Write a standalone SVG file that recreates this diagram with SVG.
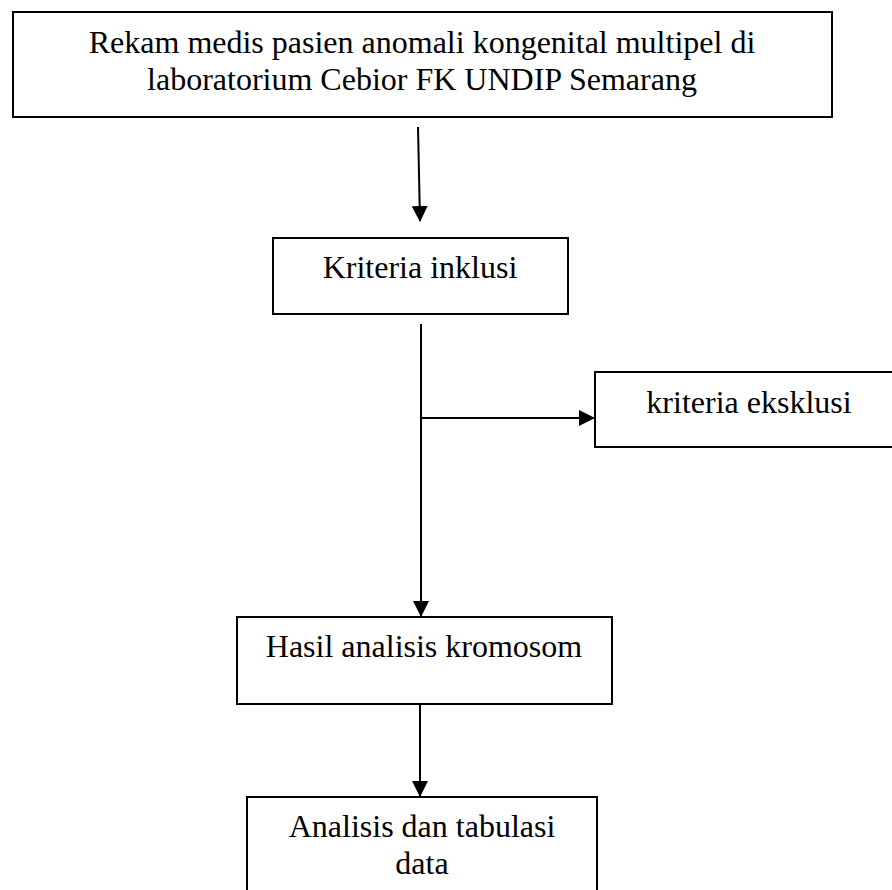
<svg xmlns="http://www.w3.org/2000/svg" width="892" height="890" viewBox="0 0 892 890">
<style>
.box{fill:#fff;stroke:#000;stroke-width:2}
.t{font-family:"Liberation Serif","Times New Roman",serif;font-size:32px;fill:#000;text-anchor:middle}
.c{stroke:#000;stroke-width:2;fill:none}
</style>
<defs>
<marker id="ah" markerUnits="userSpaceOnUse" markerWidth="16" markerHeight="16" viewBox="0 0 16 16" refX="15" refY="8" orient="auto">
<path d="M0,0 L16,8 L0,16 Z" fill="#000"/>
</marker>
</defs>
<rect width="892" height="890" fill="#fff"/>
<g id="connectors">
<line class="c" x1="418" y1="127" x2="420" y2="221" marker-end="url(#ah)"/>
<line class="c" x1="421" y1="324" x2="421" y2="616" marker-end="url(#ah)"/>
<line class="c" x1="421" y1="418" x2="594" y2="418" marker-end="url(#ah)"/>
<line class="c" x1="420" y1="705" x2="420" y2="796" marker-end="url(#ah)"/>
</g>
<g id="n1">
<rect class="box" x="13" y="12" width="819" height="105"/>
<text class="t" x="422" y="53">Rekam medis pasien anomali kongenital multipel di</text>
<text class="t" x="422" y="90">laboratorium Cebior FK UNDIP Semarang</text>
</g>
<g id="n2">
<rect class="box" x="273" y="238" width="295" height="76"/>
<text class="t" x="420" y="278">Kriteria inklusi</text>
</g>
<g id="n3">
<rect class="box" x="595" y="372" width="310" height="75"/>
<text class="t" x="749" y="413">kriteria eksklusi</text>
</g>
<g id="n4">
<rect class="box" x="237" y="617" width="375" height="87"/>
<text class="t" x="424" y="657">Hasil analisis kromosom</text>
</g>
<g id="n5">
<rect class="box" x="247" y="797" width="350" height="110"/>
<text class="t" x="422" y="837">Analisis dan tabulasi</text>
<text class="t" x="422" y="874">data</text>
</g>
</svg>
